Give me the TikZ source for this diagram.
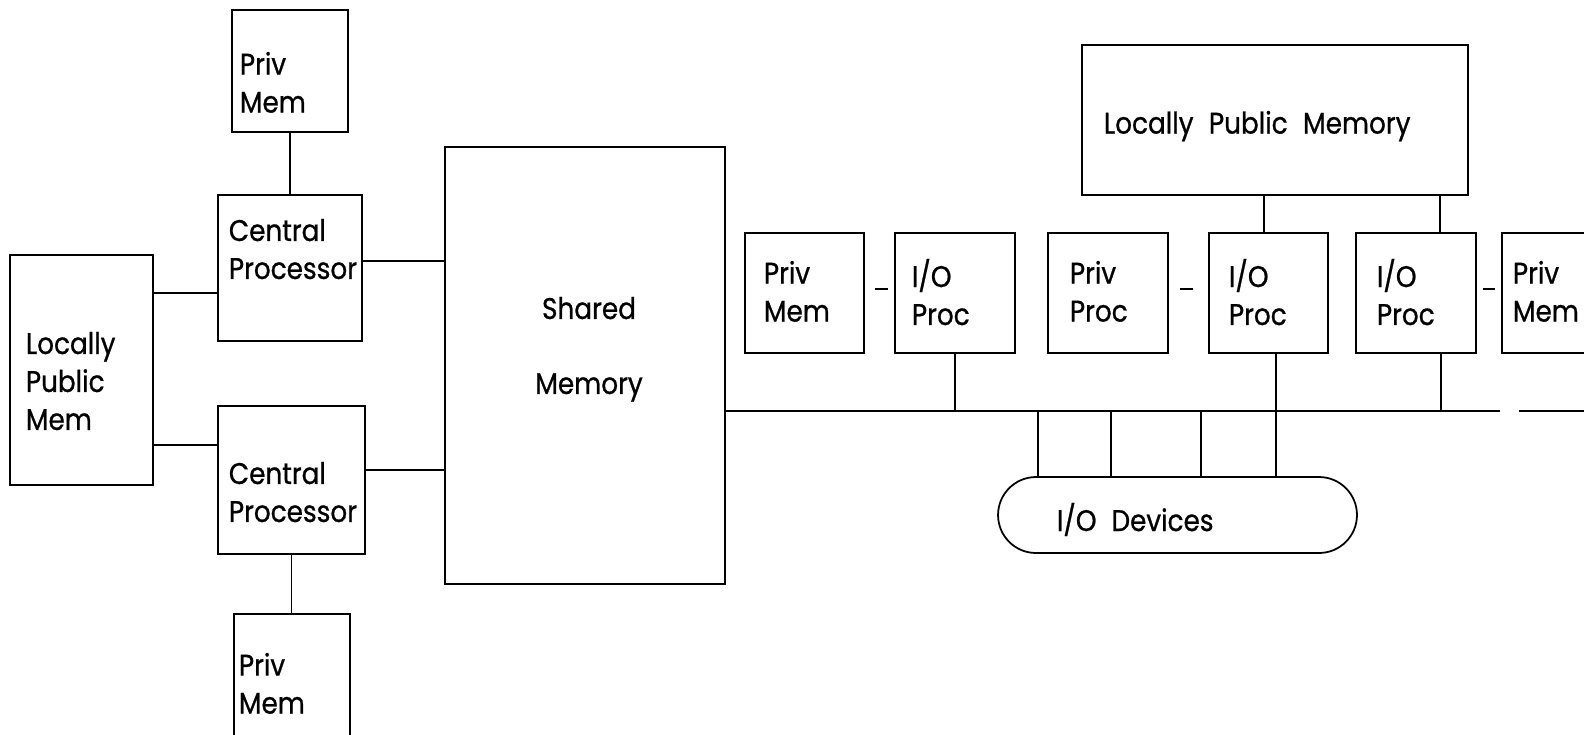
\documentclass[tikz,border=0pt]{standalone}
\usepackage{fontspec}
\setmainfont{Poppins}[FakeStretch=0.88, FakeBold=0.8, WordSpace=2.2]
\usetikzlibrary{positioning}

\begin{document}
\begin{tikzpicture}[x=0.02cm, y=-0.02cm, line width=1pt,
  every node/.style={font=\fontsize{17}{21.6}\selectfont},
  box/.style={draw, inner sep=0pt},
  dev/.style={box, rounded corners=0.76cm},
  txt/.style={inner sep=0pt, align=left, anchor=north west}]
  \useasboundingbox (0,0) rectangle (1584,734);
  % processors and memories, left
  \node[box, minimum width=2.32cm, minimum height=2.44cm] (pmA) at (290,71) {};
  \node[box, minimum width=2.88cm, minimum height=2.92cm] (cpA) at (290,268) {};
  \node[box, minimum width=2.86cm, minimum height=4.6cm] (lpmL) at (81.5,370) {};
  \node[box, minimum width=2.94cm, minimum height=2.96cm] (cpB) at (291.5,480) {};
  \node[box, minimum width=2.32cm, minimum height=2.76cm] (pmB) at (292,683) {};
  \node[box, minimum width=5.6cm, minimum height=8.74cm] (shm) at (585,365.5) {};
  \node[txt] (pmA-t) at (239,51) {Priv\\Mem};
  \node[txt] (cpA-t) at (228,218) {Central\\Processor};
  \node[txt] (lpmL-t) at (25,331) {Locally\\Public\\Mem};
  \node[txt] (cpB-t) at (228,461) {Central\\Processor};
  \node[txt] (pmB-t) at (238,652) {Priv\\Mem};
  \node[txt, anchor=north, align=center] (shm-t) at (589,296) {Shared\\[0.74cm]Memory};
  % i/o side
  \node[box, minimum width=7.72cm, minimum height=3cm] (lpmR) at (1275,120) {};
  \node[box, minimum width=2.38cm, minimum height=2.4cm] (pmC) at (804.5,293) {};
  \node[box, minimum width=2.4cm, minimum height=2.4cm] (ioA) at (955,293) {};
  \node[box, minimum width=2.4cm, minimum height=2.4cm] (ppA) at (1108,293) {};
  \node[box, minimum width=2.38cm, minimum height=2.4cm] (ioB) at (1268.5,293) {};
  \node[box, minimum width=2.4cm, minimum height=2.4cm] (ioC) at (1416,293) {};
  \node[box, minimum width=2.36cm, minimum height=2.4cm] (pmD) at (1561,293) {};
  \node[dev, minimum width=7.18cm, minimum height=1.52cm] (iodev) at (1177.5,515) {};
  \node[txt] (lpmR-t) at (1103,110) {Locally Public Memory};
  \node[txt] (pmC-t) at (763,260) {Priv\\Mem};
  \node[txt] (ioA-t) at (911,258) {I/O\\Proc};
  \node[txt] (ppA-t) at (1069,260) {Priv\\Proc};
  \node[txt] (ioB-t) at (1228,258) {I/O\\Proc};
  \node[txt] (ioC-t) at (1376,258) {I/O\\Proc};
  \node[txt] (pmD-t) at (1512,260) {Priv\\Mem};
  \node[txt] (iodev-t) at (1056,502) {I/O\hspace{0.3cm}Devices};

  \draw (pmA.south) -- (pmA.south |- cpA.north);
  \draw (cpB.south) -- (cpB.south |- pmB.north);
  \draw (lpmL.east |- 0,293) -- (cpA.west |- 0,293);
  \draw (lpmL.east |- 0,445) -- (cpB.west |- 0,445);
  \draw (cpA.east |- 0,261) -- (shm.west |- 0,261);
  \draw (cpB.east |- 0,470) -- (shm.west |- 0,470);

  \draw[shorten <=0.2cm, shorten >=0.12cm] (pmC.east |- 0,289) -- (ioA.west |- 0,289);
  \draw[shorten <=0.22cm, shorten >=0.3cm] (ppA.east |- 0,289) -- (ioB.west |- 0,289);
  \draw[shorten <=0.12cm, shorten >=0.12cm] (ioC.east |- 0,289) -- (pmD.west |- 0,289);

  % bus
  \coordinate (busend) at (1500,411);
  \coordinate (bustail) at (1519,411);
  \coordinate (busout) at (1600,411);
  \draw (shm.east |- busend) -- (busend);
  \draw (bustail) -- (busout);
  \draw (ioA.south) -- (ioA.south |- busend);
  \draw (ioC.south -| 1441,0) -- (1441,411);
  \draw (ioB.south -| 1276,0) -- (iodev.north -| 1276,0);
  \draw (lpmR.south -| 1264,0) -- (ioB.north -| 1264,0);
  \draw (lpmR.south -| 1440,0) -- (ioC.north -| 1440,0);
  \foreach \x in {1038,1111,1201}
    \draw (\x,411) -- (iodev.north -| \x,0);
\end{tikzpicture}
\end{document}
